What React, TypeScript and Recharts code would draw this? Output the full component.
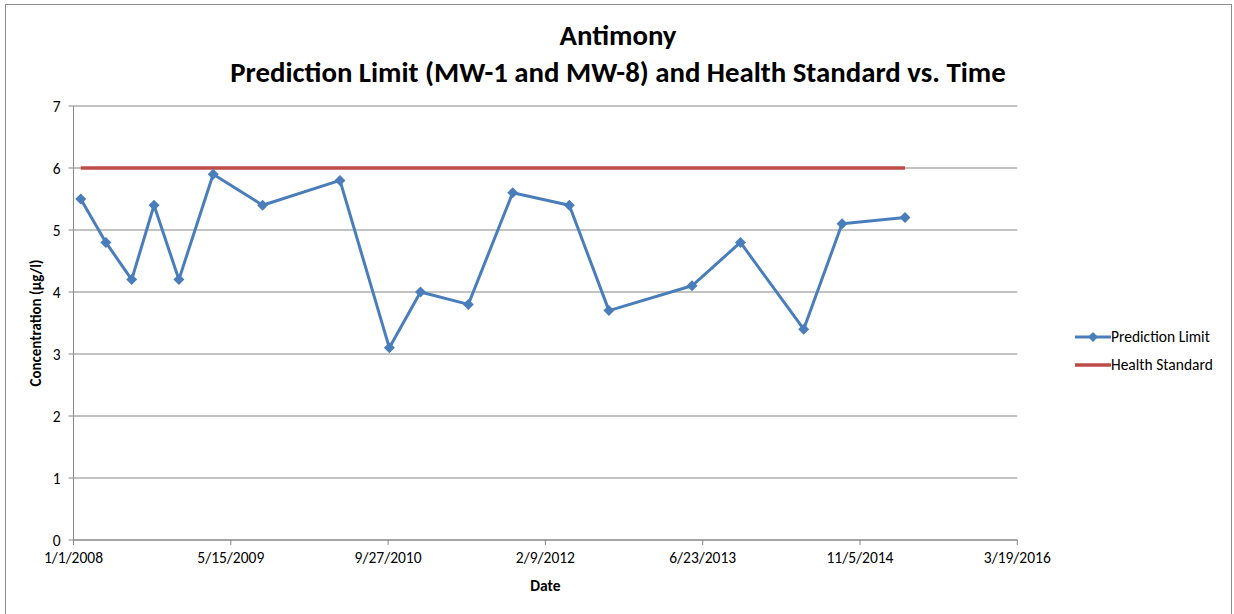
import React from 'react';
import {
  LineChart,
  Line,
  XAxis,
  YAxis,
  CartesianGrid,
} from 'recharts';

const sampleDates = [
  '2008-01-24', '2008-04-13', '2008-07-04', '2008-09-13', '2008-12-01',
  '2009-03-20', '2009-08-24', '2010-04-27', '2010-10-01', '2011-01-08',
  '2011-06-09', '2011-10-28', '2012-04-25', '2012-08-29', '2013-05-20',
  '2013-10-21', '2014-05-10', '2014-09-09', '2015-03-28',
];
const predictionLimit = [
  5.5, 4.8, 4.2, 5.4, 4.2, 5.9, 5.4, 5.8, 3.1, 4.0,
  3.8, 5.6, 5.4, 3.7, 4.1, 4.8, 3.4, 5.1, 5.2,
];
const healthStandard = [
  6, 6, 6, 6, 6, 6, 6, 6, 6, 6,
  6, 6, 6, 6, 6, 6, 6, 6, 6,
];
const xTickDates = ['2008-01-01', '2009-05-15', '2010-09-27', '2012-02-09', '2013-06-23', '2014-11-05', '2016-03-19'];
const yTicks = [0, 1, 2, 3, 4, 5, 6, 7];

const BLUE = '#4A7EBB';
const RED = '#BE4B48';
const FONT = 'Carlito, Calibri, Lato, sans-serif';

const toTime = (s: string) => Date.parse(s + 'T00:00:00Z');

const data = sampleDates.map((d, i) => ({
  t: toTime(d),
  pl: predictionLimit[i],
  hs: healthStandard[i],
}));

const xTicks = xTickDates.map(toTime);

const fmtDate = (v: number) => {
  const d = new Date(v);
  return `${d.getUTCMonth() + 1}/${d.getUTCDate()}/${d.getUTCFullYear()}`;
};

const Diamond = (props: any) => {
  const { cx, cy } = props;
  if (cx == null || cy == null) return null;
  const r = 5.5;
  return (
    <polygon
      key={`d-${cx}`}
      points={`${cx},${cy - r} ${cx + r},${cy} ${cx},${cy + r} ${cx - r},${cy}`}
      fill={BLUE}
      stroke="none"
    />
  );
};

const LegendBox = () => (
  <div style={{ fontFamily: FONT, fontSize: 15.5, color: '#000', lineHeight: '28px' }}>
    <div style={{ display: 'flex', alignItems: 'center', height: 28 }}>
      <svg width={36} height={12}>
        <line x1={0} y1={6} x2={36} y2={6} stroke={BLUE} strokeWidth={3} />
        <polygon points="18,1 23,6 18,11 13,6" fill={BLUE} />
      </svg>
      <span>Prediction Limit</span>
    </div>
    <div style={{ display: 'flex', alignItems: 'center', height: 28 }}>
      <svg width={36} height={12}>
        <line x1={0} y1={6} x2={36} y2={6} stroke={RED} strokeWidth={3.5} />
      </svg>
      <span>Health Standard</span>
    </div>
  </div>
);

export default function App() {
  return (
    <div
      style={{
        position: 'absolute',
        left: 0,
        top: 0,
        width: 1234,
        height: 614,
        background: '#fff',
        overflow: 'hidden',
        fontFamily: FONT,
      }}
    >
      <div
        style={{
          position: 'absolute',
          left: 5,
          top: 4,
          width: 1227,
          height: 640,
          border: '1px solid #8c8c8c',
          boxSizing: 'border-box',
        }}
      />
      <div
        style={{
          position: 'absolute',
          left: 0,
          width: 1236,
          top: 17,
          textAlign: 'center',
          fontWeight: 'bold',
          fontSize: 28.8,
          lineHeight: '37px',
          color: '#000',
        }}
      >
        <div>Antimony</div>
        <div>Prediction Limit (MW-1 and MW-8) and Health Standard vs. Time</div>
      </div>
      <div style={{ position: 'absolute', left: 0, top: 0 }}>
        <LineChart
          width={1234}
          height={614}
          data={data}
          margin={{ top: 106, right: 216.7, bottom: 0, left: 0 }}
        >
          <CartesianGrid vertical={false} stroke="#868686" strokeWidth={1} />
          <XAxis
            dataKey="t"
            type="number"
            scale="linear"
            domain={[xTicks[0], xTicks[xTicks.length - 1]]}
            ticks={xTicks}
            tickFormatter={fmtDate}
            height={74}
            stroke="#868686"
            tickSize={5}
            tickMargin={7}
            tick={{ fill: '#000', fontSize: 15.5, fontFamily: FONT }}
            label={{
              value: 'Date',
              position: 'insideBottom',
              offset: 23,
              style: { fill: '#000', fontWeight: 'bold', fontSize: 15.5, fontFamily: FONT },
            }}
          />
          <YAxis
            type="number"
            domain={[0, 7]}
            ticks={yTicks}
            width={73.5}
            stroke="#868686"
            tickSize={5}
            tickMargin={8}
            tick={{ fill: '#000', fontSize: 15.5, fontFamily: FONT }}
            label={{
              value: 'Concentration (µg/l)',
              angle: -90,
              position: 'insideLeft',
              offset: 36,
              style: { fill: '#000', fontWeight: 'bold', fontSize: 15, fontFamily: FONT, textAnchor: 'middle' },
            }}
          />
          <Line
            dataKey="hs"
            name="Health Standard"
            stroke={RED}
            strokeWidth={3.5}
            dot={false}
            activeDot={false}
            isAnimationActive={false}
          />
          <Line
            dataKey="pl"
            name="Prediction Limit"
            stroke={BLUE}
            strokeWidth={3}
            strokeLinejoin="round"
            dot={<Diamond />}
            activeDot={false}
            isAnimationActive={false}
          />
        </LineChart>
      </div>
      <div style={{ position: 'absolute', left: 1075, top: 323, width: 160 }}>
        <LegendBox />
      </div>
    </div>
  );
}
